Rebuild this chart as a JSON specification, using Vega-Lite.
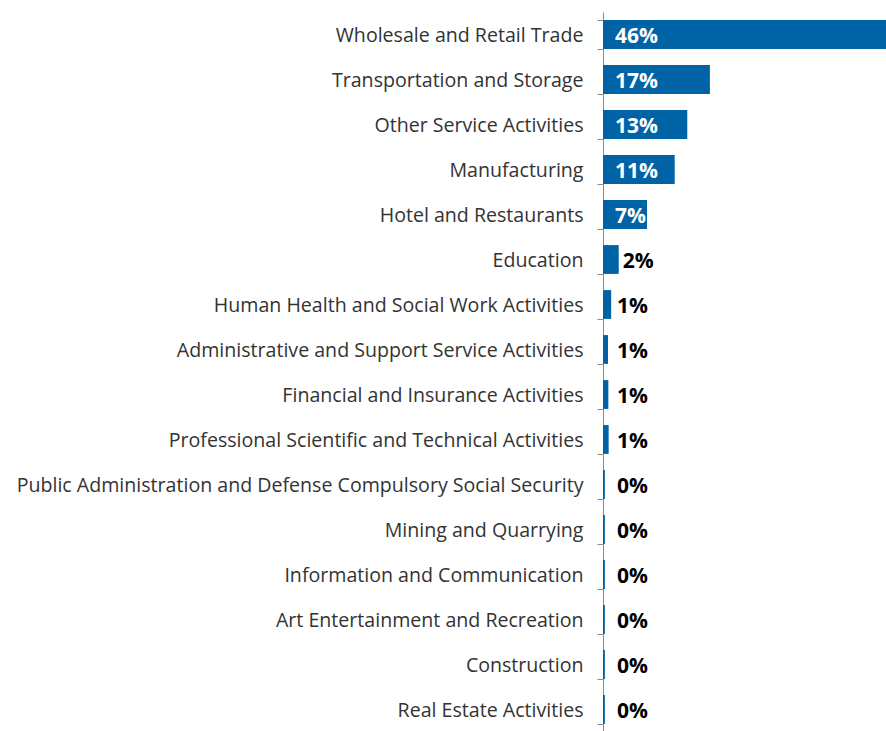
{
  "$schema": "https://vega.github.io/schema/vega-lite/v6.json",
  "autosize": {"type": "none"},
  "padding": {"left": 603, "top": 12, "right": 0, "bottom": 0},
  "width": 283,
  "height": 720,
  "background": "white",
  "config": {"view": {"stroke": null}, "font": "Open Sans"},
  "data": {
    "values": [
      {"sector": "Wholesale and Retail Trade", "pct": 46, "label": "46%"},
      {"sector": "Transportation and Storage", "pct": 17, "label": "17%"},
      {"sector": "Other Service Activities", "pct": 13.4, "label": "13%"},
      {"sector": "Manufacturing", "pct": 11.4, "label": "11%"},
      {"sector": "Hotel and Restaurants", "pct": 7.0, "label": "7%"},
      {"sector": "Education", "pct": 2.5, "label": "2%"},
      {"sector": "Human Health and Social Work Activities", "pct": 1.3, "label": "1%"},
      {"sector": "Administrative and Support Service Activities", "pct": 0.8, "label": "1%"},
      {"sector": "Financial and Insurance Activities", "pct": 0.85, "label": "1%"},
      {"sector": "Professional Scientific and Technical Activities", "pct": 0.9, "label": "1%"},
      {"sector": "Public Administration and Defense Compulsory Social Security", "pct": 0.3, "label": "0%"},
      {"sector": "Mining and Quarrying", "pct": 0.3, "label": "0%"},
      {"sector": "Information and Communication", "pct": 0.3, "label": "0%"},
      {"sector": "Art Entertainment and Recreation", "pct": 0.3, "label": "0%"},
      {"sector": "Construction", "pct": 0.3, "label": "0%"},
      {"sector": "Real Estate Activities", "pct": 0.3, "label": "0%"}
    ]
  },
  "encoding": {
    "y": {
      "field": "sector",
      "type": "nominal",
      "sort": null,
      "title": null,
      "scale": {"paddingInner": 0.36, "paddingOuter": 0.18},
      "axis": {
        "tickBand": "extent",
        "domainColor": "#8c8c8c",
        "tickColor": "#8c8c8c",
        "tickSize": 6,
        "labelPadding": 14,
        "labelLimit": 0,
        "labelFontSize": 19.6,
        "labelColor": "#333333",
        "labelFont": "Open Sans",
        "labelOffset": 1
      }
    }
  },
  "layer": [
    {
      "mark": {"type": "bar", "color": "#0063A6", "clip": true},
      "encoding": {
        "x": {"field": "pct", "type": "quantitative", "scale": {"domain": [0, 45]}, "axis": null}
      }
    },
    {
      "transform": [{"filter": "datum.pct >= 5"}],
      "mark": {"type": "text", "align": "left", "dx": 12, "dy": 2, "fontSize": 21, "fontWeight": "bold", "color": "white"},
      "encoding": {
        "x": {"datum": 0, "type": "quantitative"},
        "text": {"field": "label"}
      }
    },
    {
      "transform": [{"filter": "datum.pct >= 2 && datum.pct < 5"}],
      "mark": {"type": "text", "align": "left", "dx": 4, "dy": 2, "fontSize": 21, "fontWeight": "bold", "color": "black"},
      "encoding": {
        "x": {"field": "pct", "type": "quantitative"},
        "text": {"field": "label"}
      }
    },
    {
      "transform": [{"filter": "datum.pct < 2"}],
      "mark": {"type": "text", "align": "left", "dx": 14, "dy": 2, "fontSize": 21, "fontWeight": "bold", "color": "black"},
      "encoding": {
        "x": {"datum": 0, "type": "quantitative"},
        "text": {"field": "label"}
      }
    }
  ]
}
